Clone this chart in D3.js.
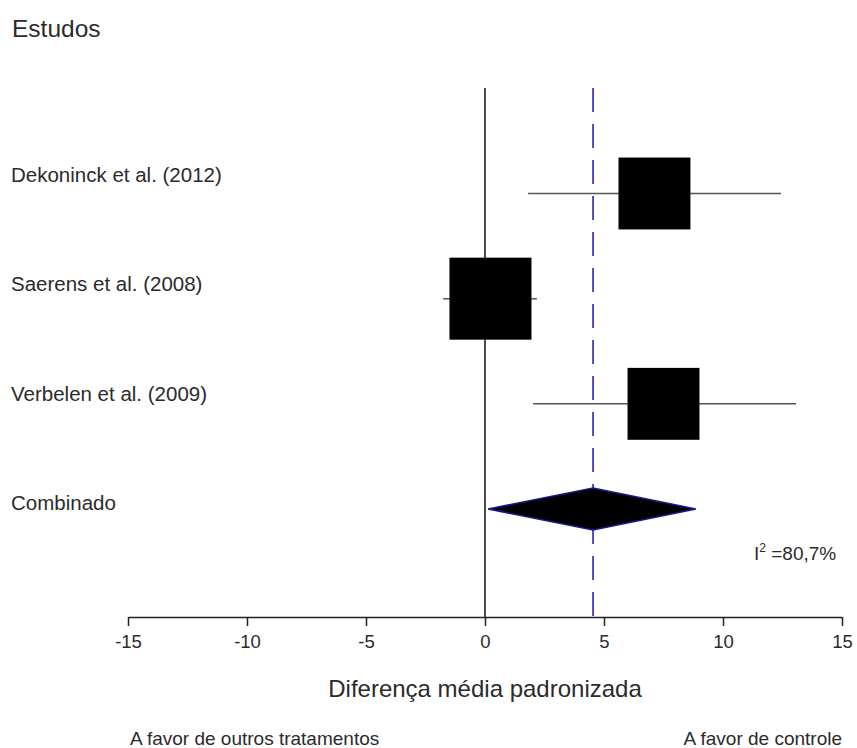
<!DOCTYPE html>
<html><head><meta charset="utf-8">
<script src="https://cdn.jsdelivr.net/npm/d3@7"></script>
<style>
body{margin:0;background:#fff;}
text{font-family:"Liberation Sans",Arial,sans-serif;fill:#2b2b2b;}
</style></head>
<body><svg id="c" width="857" height="748"></svg>
<script>
const studies = ["Dekoninck et al. (2012)", "Saerens et al. (2008)", "Verbelen et al. (2009)"];
const means = [7.12, 0.23, 7.50];
const lower = [1.81, -1.76, 2.02];
const upper = [12.44, 2.18, 13.07];
const weights = [30.3, 39.4, 30.3];
const pooledLabel = "Combinado";
const pooledMean = 4.54;
const pooledLower = 0.13;
const pooledUpper = 8.86;
const tickValues = [-15, -10, -5, 0, 5, 10, 15];
const heterogeneity = "80,7%";

const svg = d3.select("#c");
const x = d3.scaleLinear().domain([-15, 15]).range([128, 842]);
const rows = studies.concat([pooledLabel]);
const yMark = d3.scalePoint().domain(rows).range([193.5, 509]);
const yLabel = d3.scalePoint().domain(rows).range([182, 510]);
const side = d3.scaleSqrt().domain([0, d3.max(weights)]).range([0, 82]);

// title
svg.append("text").attr("x", 12).attr("y", 37).attr("font-size", 24.5).text("Estudos");

// labels
svg.selectAll("text.lab").data(rows).join("text").attr("class", "lab")
  .attr("x", 11).attr("y", d => yLabel(d)).attr("font-size", 20.5).text(d => d);

// zero line
svg.append("line").attr("x1", x(0)).attr("x2", x(0)).attr("y1", 88).attr("y2", 617)
  .attr("stroke", "#111").attr("stroke-width", 1.5);
// pooled dashed line
svg.append("line").attr("x1", x(pooledMean)).attr("x2", x(pooledMean)).attr("y1", 88).attr("y2", 617)
  .attr("stroke", "#2222b8").attr("stroke-width", 1.6).attr("stroke-dasharray", "24,12");

// CIs
svg.selectAll("line.ci").data(studies).join("line").attr("class", "ci")
  .attr("x1", (d, i) => x(lower[i])).attr("x2", (d, i) => x(upper[i]))
  .attr("y1", d => yMark(d)).attr("y2", d => yMark(d))
  .attr("stroke", "#555").attr("stroke-width", 1.5);
// squares
svg.selectAll("rect.sq").data(studies).join("rect").attr("class", "sq")
  .attr("x", (d, i) => x(means[i]) - side(weights[i]) / 2)
  .attr("y", (d, i) => yMark(d) - side(weights[i]) / 2)
  .attr("width", (d, i) => side(weights[i])).attr("height", (d, i) => side(weights[i]))
  .attr("fill", "#000");

// diamond
const yc = yMark(pooledLabel), hh = 21;
svg.append("path")
  .attr("d", `M${x(pooledLower)},${yc} L${x(pooledMean)},${yc - hh} L${x(pooledUpper)},${yc} L${x(pooledMean)},${yc + hh} Z`)
  .attr("fill", "#000").attr("stroke", "#1a1a90").attr("stroke-width", 1.5);

// I2
const t = svg.append("text").attr("x", 754).attr("y", 560).attr("font-size", 19);
t.append("tspan").text("I");
t.append("tspan").attr("dy", -8).attr("font-size", 12).text("2");
t.append("tspan").attr("dy", 8).text(" =" + heterogeneity);

// axis
const ax = svg.append("g").attr("transform", "translate(0,617)")
  .call(d3.axisBottom(x).tickValues(tickValues).tickSize(9).tickSizeOuter(0).tickPadding(9).tickFormat(d => String(d)));
ax.select(".domain").attr("stroke", "#222").attr("stroke-width", 1.5);
ax.selectAll(".tick line").attr("stroke", "#222").attr("stroke-width", 1.5);
ax.selectAll(".tick text").attr("font-size", 18.5).attr("fill", "#2b2b2b").attr("font-family", "Liberation Sans, Arial, sans-serif");

svg.append("text").attr("x", x(0)).attr("y", 697).attr("text-anchor", "middle").attr("font-size", 24)
  .text("Diferença média padronizada");
svg.append("text").attr("x", 130).attr("y", 745).attr("font-size", 19).text("A favor de outros tratamentos");
svg.append("text").attr("x", 842).attr("y", 745).attr("text-anchor", "end").attr("font-size", 19).text("A favor de controle");
</script></body></html>
